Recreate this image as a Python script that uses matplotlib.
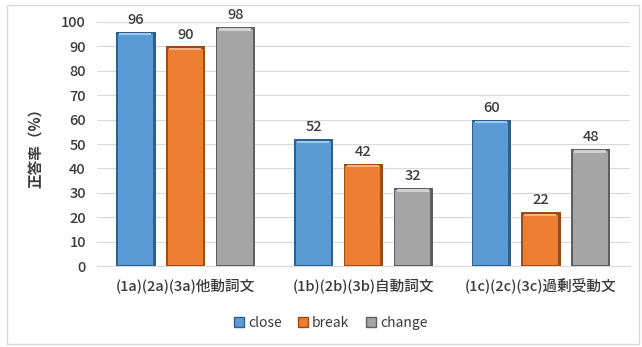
import numpy as np
import matplotlib.pyplot as plt
from matplotlib.patches import Rectangle

plt.rcParams['font.family'] = ['Noto Sans CJK JP', 'DejaVu Sans']

categories = ['(1a)(2a)(3a)他動詞文', '(1b)(2b)(3b)自動詞文', '(1c)(2c)(3c)過剰受動文']
series = ['close', 'break', 'change']
close_vals = [96, 52, 60]
break_vals = [90, 42, 22]
change_vals = [98, 32, 48]
y_ticks = [0, 10, 20, 30, 40, 50, 60, 70, 80, 90, 100]

colors = ['#5B9BD5', '#ED7D31', '#A5A5A5']
dark = ['#2F5F8C', '#9E4A14', '#5E5E5E']
light = ['#9CC8EE', '#F6B184', '#D2D2D2']
txt = '#3A3A3A'

fig = plt.figure(figsize=(6.42, 3.47), dpi=100)
fig.patches.append(Rectangle((0.011, 0.008), 0.985, 0.978, transform=fig.transFigure,
                             fill=False, edgecolor='#D9D9D9', linewidth=1.0))
ax = fig.add_axes([0.151, 0.2334, 0.830, 0.7032])

x = np.arange(len(categories))
width = 0.22
step = 0.28

for i, vals in enumerate([close_vals, break_vals, change_vals]):
    pos = x + (i - 1) * step
    vals = np.array(vals)
    # dark rim, then face, then a soft highlight along the top
    ax.bar(pos, vals, width=width, color=dark[i], zorder=3, label=series[i])
    ax.bar(pos - 0.003, vals - 1.2, width=width - 0.022, bottom=0.3,
           color=colors[i], zorder=4)
    ax.bar(pos - 0.003, 0.9, width=width - 0.04, bottom=vals - 1.5,
           color=light[i], zorder=5)
    for p, v in zip(pos, vals):
        ax.text(p, v + 2, str(v), ha='center', va='bottom', fontsize=10.5,
                fontweight='medium', color=txt, zorder=6)

ax.set_xlim(-0.5, 2.5)
ax.set_ylim(0, 100)
ax.set_yticks(y_ticks)
ax.set_xticks(x)
ax.set_xticklabels(categories, fontsize=10.5, color=txt, fontweight='medium')
ax.tick_params(axis='y', labelsize=10.5, labelcolor=txt, length=0, pad=8)
for t in ax.get_yticklabels():
    t.set_fontweight('medium')
ax.tick_params(axis='x', length=0, pad=9)
ax.grid(axis='y', color='#D9D9D9', linewidth=0.8, zorder=0)
for s in ['top', 'right', 'left']:
    ax.spines[s].set_visible(False)
ax.spines['bottom'].set_color('#D9D9D9')
ax.set_ylabel('正答率（%）', fontsize=10.5, color=txt, fontweight='bold', labelpad=12)

handles = [Rectangle((0, 0), 1, 1, facecolor=c, edgecolor=d, linewidth=1)
           for c, d in zip(colors, dark)]
fig.legend(handles, series, loc='center', bbox_to_anchor=(0.515, 0.07), ncol=3,
           frameon=False, fontsize=10, handlelength=0.7, handleheight=0.7,
           handletextpad=0.3, columnspacing=1.2, labelcolor=txt)

fig.savefig('out.png', dpi=100)
